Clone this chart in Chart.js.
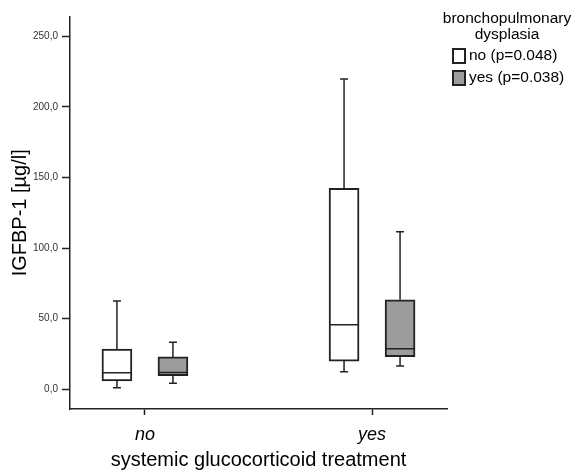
<!DOCTYPE html>
<html>
<head>
<meta charset="utf-8">
<script src="https://cdn.jsdelivr.net/npm/chart.js@4/dist/chart.umd.min.js"></script>
<style>
html,body{margin:0;padding:0;background:#fff;}
#wrap{width:577px;height:472px;}
</style>
</head>
<body>
<div id="wrap"><canvas id="c" width="577" height="472"></canvas></div>
<script>
// ---- data ----
const categories = ['no', 'yes'];                 // systemic glucocorticoid treatment
const seriesLabels = ['no (p=0.048)', 'yes (p=0.038)']; // bronchopulmonary dysplasia
const legendTitle = ['bronchopulmonary', 'dysplasia'];
const yTickValues = [0, 50, 100, 150, 200, 250];

// BPD = no
const noMin    = [1.2, 12.5];
const noQ1     = [6.0, 20.0];
const noMedian = [11.8, 45.7];
const noQ3     = [28.5, 142.3];
const noMax    = [62.5, 219.8];
// BPD = yes
const yesMin    = [4.4, 16.5];
const yesQ1     = [9.7, 23.2];
const yesMedian = [12.0, 28.8];
const yesQ3     = [23.0, 63.4];
const yesMax    = [33.4, 111.6];

// ---- styling / layout ----
const OFFSET = 0.1233;     // group offset in category units
const EDGE = '#222222';
const FILLS = ['#ffffff', '#9c9c9c'];
const FONT = "'Liberation Sans', Arial, sans-serif";

function boxData(q1, q3, shift) {
  return categories.map((c, i) => ({x: i + shift, y: [q1[i], q3[i]]}));
}
function whiskerData(mn, q1, q3, mx, shift) {
  const pts = [];
  categories.forEach((c, i) => {
    const x = i + shift;
    pts.push({x, y: q3[i]}, {x, y: mx[i]}, {x, y: null});
    pts.push({x, y: q1[i]}, {x, y: mn[i]}, {x, y: null});
  });
  return pts;
}
function capData(mn, mx, shift) {
  const pts = [];
  categories.forEach((c, i) => { pts.push({x: i + shift, y: mn[i]}, {x: i + shift, y: mx[i]}); });
  return pts;
}
function medData(md, shift) {
  return categories.map((c, i) => ({x: i + shift, y: md[i]}));
}

const series = [
  {label: seriesLabels[0], mn: noMin, q1: noQ1, md: noMedian, q3: noQ3, mx: noMax, shift: -OFFSET, fill: FILLS[0]},
  {label: seriesLabels[1], mn: yesMin, q1: yesQ1, md: yesMedian, q3: yesQ3, mx: yesMax, shift: OFFSET, fill: FILLS[1]}
];

const datasets = [];
series.forEach(s => {
  datasets.push({
    type: 'bar', label: s.label, data: boxData(s.q1, s.q3, s.shift),
    backgroundColor: s.fill, borderColor: EDGE, borderWidth: 2, borderSkipped: false,
    barThickness: 30, grouped: false, order: 2, isBox: true
  });
  datasets.push({
    type: 'line', label: s.label + ' whisker', data: whiskerData(s.mn, s.q1, s.q3, s.mx, s.shift),
    borderColor: EDGE, borderWidth: 1.5, pointRadius: 0, spanGaps: false, fill: false, order: 3
  });
  datasets.push({
    type: 'line', label: s.label + ' cap', data: capData(s.mn, s.mx, s.shift), showLine: false,
    pointStyle: 'line', pointRadius: 4, pointBorderWidth: 1.5, pointBorderColor: EDGE, order: 1
  });
  datasets.push({
    type: 'line', label: s.label + ' median', data: medData(s.md, s.shift), showLine: false,
    pointStyle: 'line', pointRadius: 15, pointBorderWidth: 1.5, pointBorderColor: EDGE, order: 0
  });
});

const legendPlugin = {
  id: 'boxLegend',
  afterDraw(chart) {
    const ctx = chart.ctx;
    ctx.save();
    ctx.fillStyle = '#000';
    ctx.font = '15.5px ' + FONT;
    ctx.textAlign = 'center';
    ctx.textBaseline = 'middle';
    legendTitle.forEach((t, i) => ctx.fillText(t, 507, 19 + i * 16));
    const boxes = chart.data.datasets.filter(d => d.isBox);
    boxes.forEach((d, i) => {
      const y = 48 + i * 22;
      ctx.fillStyle = d.backgroundColor;
      ctx.fillRect(452, y, 14, 16);
      ctx.strokeStyle = EDGE;
      ctx.lineWidth = 2;
      ctx.strokeRect(453, y + 1, 12, 14);
      ctx.fillStyle = '#000';
      ctx.textAlign = 'left';
      ctx.fillText(d.label, 469, y + 8);
    });
    ctx.restore();
  }
};

const bgPlugin = {
  id: 'bg',
  beforeDraw(chart) {
    const ctx = chart.ctx;
    ctx.save(); ctx.fillStyle = '#fff'; ctx.fillRect(0, 0, chart.width, chart.height); ctx.restore();
  }
};

new Chart(document.getElementById('c'), {
  type: 'bar',
  data: {datasets},
  options: {
    responsive: false,
    animation: false,
    layout: {padding: {top: 10, right: 130, left: 0, bottom: 0}},
    plugins: {legend: {display: false}, tooltip: {enabled: false}},
    scales: {
      x: {
        type: 'linear', min: -0.33, max: 1.33, offset: false,
        afterBuildTicks: s => { s.ticks = categories.map((c, i) => ({value: i})); },
        afterFit: s => { s.height = 63; },
        ticks: {
          callback: v => categories[v],
          color: '#000', padding: 9,
          font: {family: FONT, size: 18, style: 'italic'}
        },
        grid: {display: true, offset: false, drawOnChartArea: false, drawTicks: true, tickLength: 6, color: EDGE, tickWidth: 1.5},
        border: {display: true, color: EDGE, width: 1.5},
        title: {display: true, text: 'systemic glucocorticoid treatment', color: '#000',
                font: {family: FONT, size: 20}, padding: {top: 0, bottom: 0}}
      },
      y: {
        type: 'linear', min: -13.9, max: 264,
        afterBuildTicks: s => { s.ticks = yTickValues.map(v => ({value: v})); },
        afterFit: s => { s.width = 70; },
        ticks: {
          callback: v => v.toFixed(1).replace('.', ','),
          color: '#333', padding: 4,
          font: {family: FONT, size: 10}
        },
        grid: {display: true, drawOnChartArea: false, drawTicks: true, tickLength: 8, color: EDGE, tickWidth: 1.5},
        border: {display: true, color: EDGE, width: 1.5},
        title: {display: true, text: 'IGFBP-1 [µg/l]', color: '#000',
                font: {family: FONT, size: 20}, padding: {top: 8, bottom: 0}}
      }
    }
  },
  plugins: [bgPlugin, legendPlugin]
});
</script>
</body>
</html>
